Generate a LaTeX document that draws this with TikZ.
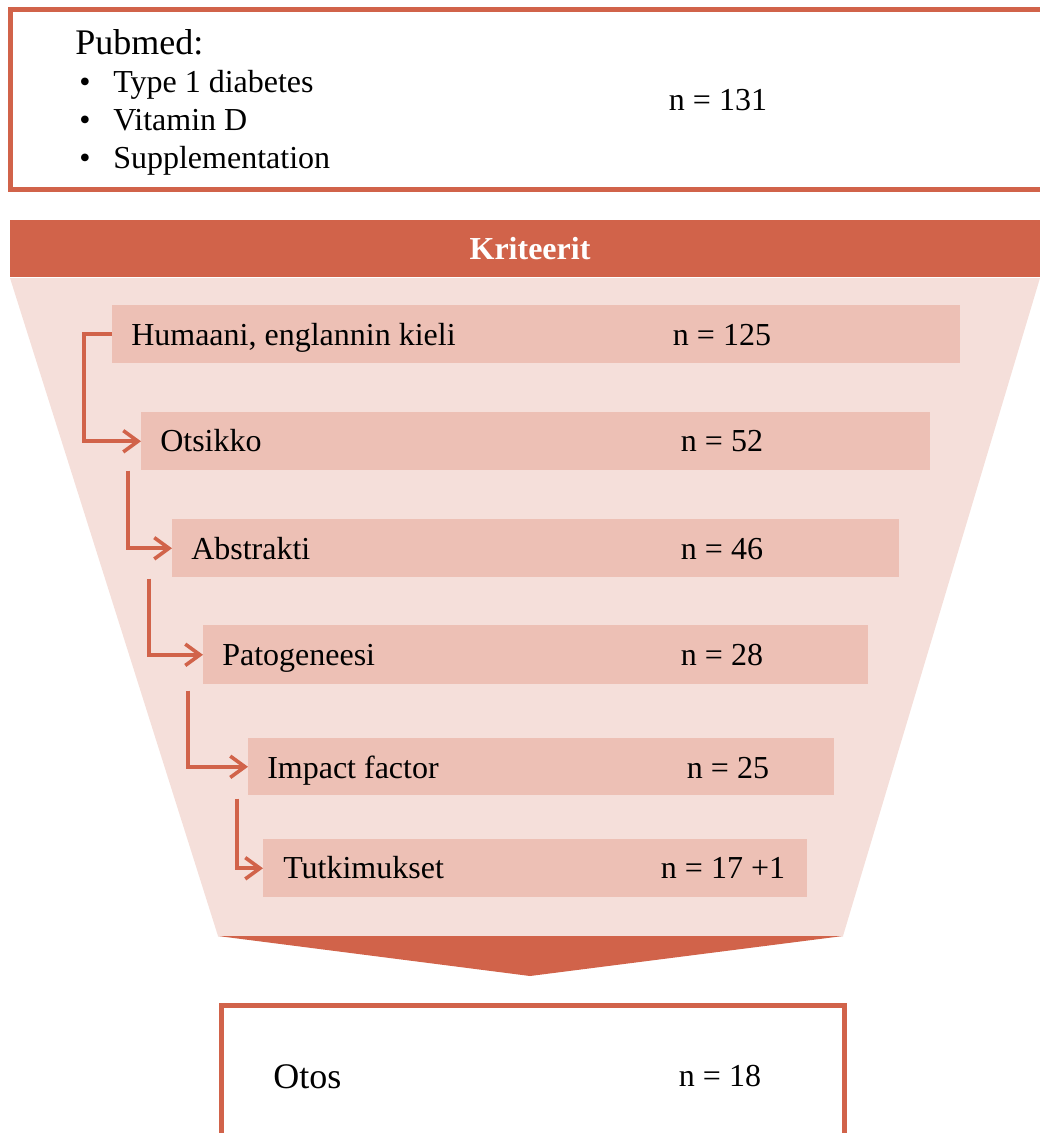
\documentclass[tikz,border=0pt]{standalone}
\usepackage{fontspec}
\setmainfont{Liberation Serif}
\usetikzlibrary{arrows.meta}
\definecolor{rust}{HTML}{D1634A}
\definecolor{funnelpink}{HTML}{F5DFDA}
\definecolor{boxpink}{HTML}{EDC0B5}
\tikzset{
  outline/.style={draw=rust, line width=3.75pt, fill=white, inner sep=0pt, anchor=north west},
  stagebox/.style={fill=boxpink, inner sep=0pt, anchor=north west},
  lbl/.style={inner sep=0pt, anchor=base west, font=\fontsize{24}{28}\selectfont},
  bigl/.style={inner sep=0pt, anchor=base west, font=\fontsize{27}{31}\selectfont},
  num/.style={inner sep=0pt, anchor=base, font=\fontsize{24}{28}\selectfont},
  conn/.style={draw=rust, line width=2.7pt, -{Straight Barb[length=11pt,width=16pt,line width=2.7pt]}},
}
\begin{document}
\begin{tikzpicture}[x=0.75pt, y=-0.75pt]
\useasboundingbox (0,0) rectangle (1040,1133);
% top box
\node[outline, minimum width=1042*0.75pt, minimum height=180*0.75pt] (top) at (8,7) {};
\node[bigl] (pub) at (75,54) {Pubmed:};
\node[lbl] (b1) at (79,92) {•};
\node[lbl] (t1) at (113,92) {Type 1 diabetes};
\node[lbl] (b2) at (79,130) {•};
\node[lbl] (t2) at (113,130) {Vitamin D};
\node[lbl] (b3) at (79,168) {•};
\node[lbl] (t3) at (113,168) {Supplementation};
\node[num] (n0) at (718,110) {n = 131};
% funnel
\fill[funnelpink] (10,278) -- (1040,278) -- (843,936) -- (218,936) -- cycle;
\fill[rust] (218,936) -- (843,936) -- (530,976) -- cycle;
% Kriteerit band
\node[fill=rust, inner sep=0pt, anchor=north west, minimum width=1040*0.75pt, minimum height=57*0.75pt] (krit) at (10,220) {};
\node[num, text=white, font=\fontsize{24}{28}\selectfont\bfseries] (kritl) at (530,259) {Kriteerit};
% stage boxes
\node[stagebox, minimum width=848*0.75pt, minimum height=58*0.75pt] (h) at (112,305) {};
\node[lbl] (hl) at (131,345) {Humaani, englannin kieli};
\node[num] (hn) at (722,345) {n = 125};
\node[stagebox, minimum width=789*0.75pt, minimum height=58*0.75pt] (o) at (141,412) {};
\node[lbl] (ol) at (160,451) {Otsikko};
\node[num] (on) at (722,451) {n = 52};
\node[stagebox, minimum width=727*0.75pt, minimum height=58*0.75pt] (a) at (172,519) {};
\node[lbl] (al) at (191,559) {Abstrakti};
\node[num] (an) at (722,559) {n = 46};
\node[stagebox, minimum width=665*0.75pt, minimum height=59*0.75pt] (p) at (203,625) {};
\node[lbl] (pl) at (222,665) {Patogeneesi};
\node[num] (pn) at (722,665) {n = 28};
\node[stagebox, minimum width=586*0.75pt, minimum height=57*0.75pt] (i) at (248,738) {};
\node[lbl] (il) at (267,778) {Impact factor};
\node[num] (in) at (728,778) {n = 25};
\node[stagebox, minimum width=544*0.75pt, minimum height=58*0.75pt] (t) at (263,839) {};
\node[lbl] (tl) at (283,878) {Tutkimukset};
\node[num] (tn) at (723,878) {n = 17 +1};
% connectors
\draw[conn] (h.west) -- ++(-28,0) |- (o.west);
\draw[conn] (o.south west) ++(-13,0) |- (a.west);
\draw[conn] (a.south west) ++(-23,1) |- (p.west);
\draw[conn] (p.south west) ++(-15,6) |- (i.west);
\draw[conn] (i.south west) ++(-11,3) |- (t.west);
% bottom box
\node[outline, minimum width=623*0.75pt, minimum height=160*0.75pt] (otos) at (219,1003) {};
\node[bigl] (otl) at (273,1088) {Otos};
\node[num] (otn) at (720,1086) {n = 18};
\end{tikzpicture}
\end{document}
